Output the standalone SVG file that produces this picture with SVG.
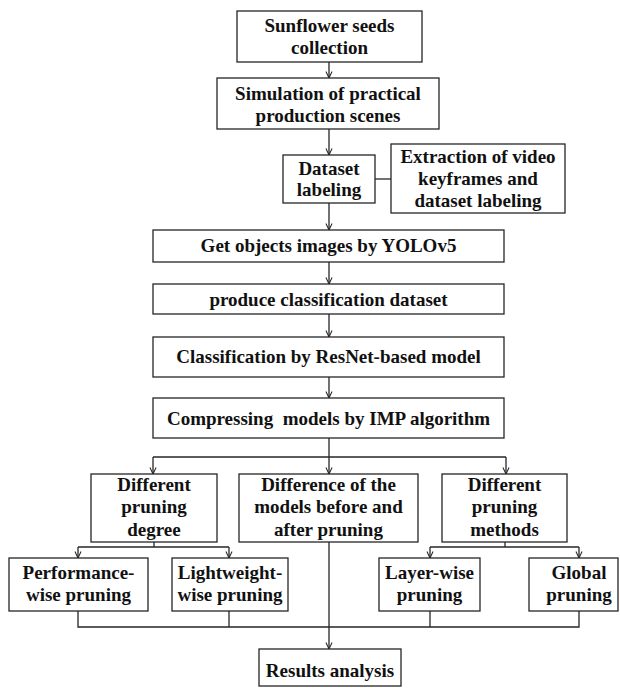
<svg xmlns="http://www.w3.org/2000/svg" width="620" height="688" viewBox="0 0 620 688">
  <style>
    .box { fill: #ffffff; stroke: #262626; stroke-width: 1.3; }
    .lbl { font-family: 'Liberation Serif', Tinos, 'Times New Roman', Times, 'DejaVu Serif', serif; font-weight: 700; font-size: 19px; fill: #111111; text-anchor: middle; }
    .wire { fill: none; stroke: #262626; stroke-width: 1.3; }
  </style>
  <defs>
    <marker id="arrow" viewBox="0 0 8 8" refX="7.5" refY="4" markerWidth="7" markerHeight="8" markerUnits="userSpaceOnUse" orient="auto">
      <path d="M0,0.5 L7.5,4 L0,7.5" fill="none" stroke="#262626" stroke-width="1.2"/>
    </marker>
  </defs>
  <rect width="620" height="688" fill="#ffffff"/>

  <!-- connectors -->
  <g id="connectors" class="wire">
    <path d="M329,62 V78" marker-end="url(#arrow)"/>
    <path d="M329,129 V155" marker-end="url(#arrow)"/>
    <path d="M375,179 H391"/>
    <path d="M329,203 V230" marker-end="url(#arrow)"/>
    <path d="M329,262 V284" marker-end="url(#arrow)"/>
    <path d="M329,314 V337" marker-end="url(#arrow)"/>
    <path d="M329,377 V398" marker-end="url(#arrow)"/>
    <!-- split after compression -->
    <path d="M329,438 V457"/>
    <path d="M153,457 H506"/>
    <path d="M153,457 V474" marker-end="url(#arrow)"/>
    <path d="M329,457 V474" marker-end="url(#arrow)"/>
    <path d="M506,457 V474" marker-end="url(#arrow)"/>
    <!-- pruning degree branch -->
    <path d="M154,542 V547"/>
    <path d="M78,547 H229"/>
    <path d="M78,547 V558" marker-end="url(#arrow)"/>
    <path d="M229,547 V558" marker-end="url(#arrow)"/>
    <!-- pruning methods branch -->
    <path d="M505,542 V547"/>
    <path d="M430,547 H579"/>
    <path d="M430,547 V558" marker-end="url(#arrow)"/>
    <path d="M579,547 V558" marker-end="url(#arrow)"/>
    <!-- merge into results -->
    <path d="M78,611 V627 H579 V611"/>
    <path d="M229,611 V627"/>
    <path d="M430,611 V627"/>
    <path d="M329,542 V649" marker-end="url(#arrow)"/>
  </g>

  <g id="seeds">
    <rect class="box" x="237" y="11" width="185" height="51"/>
    <text class="lbl" x="329.5" y="32">Sunflower seeds</text>
    <text class="lbl" x="329.5" y="54">collection</text>
  </g>
  <g id="simulation">
    <rect class="box" x="217" y="78" width="222" height="51"/>
    <text class="lbl" x="328" y="100">Simulation of practical</text>
    <text class="lbl" x="328" y="122">production scenes</text>
  </g>
  <g id="labeling">
    <rect class="box" x="283" y="155" width="92" height="48"/>
    <text class="lbl" x="329" y="175">Dataset</text>
    <text class="lbl" x="329" y="196">labeling</text>
  </g>
  <g id="extraction">
    <rect class="box" x="391" y="144" width="174" height="69"/>
    <text class="lbl" x="478" y="163">Extraction of video</text>
    <text class="lbl" x="478" y="185">keyframes and</text>
    <text class="lbl" x="478" y="207">dataset labeling</text>
  </g>
  <g id="yolo">
    <rect class="box" x="153" y="230" width="351" height="32"/>
    <text class="lbl" x="328.5" y="252">Get objects images by YOLOv5</text>
  </g>
  <g id="produce">
    <rect class="box" x="153" y="284" width="351" height="30"/>
    <text class="lbl" x="328.5" y="306">produce classification dataset</text>
  </g>
  <g id="classification">
    <rect class="box" x="153" y="337" width="351" height="40"/>
    <text class="lbl" x="328.5" y="363">Classification by ResNet-based model</text>
  </g>
  <g id="compressing">
    <rect class="box" x="153" y="398" width="351" height="40"/>
    <text class="lbl" x="328.5" y="425" xml:space="preserve">Compressing  models by IMP algorithm</text>
  </g>
  <g id="degree">
    <rect class="box" x="91" y="474" width="126" height="68"/>
    <text class="lbl" x="154" y="491">Different</text>
    <text class="lbl" x="154" y="513">pruning</text>
    <text class="lbl" x="154" y="536">degree</text>
  </g>
  <g id="difference">
    <rect class="box" x="239" y="474" width="179" height="68"/>
    <text class="lbl" x="328.5" y="491">Difference of the</text>
    <text class="lbl" x="328.5" y="513">models before and</text>
    <text class="lbl" x="328.5" y="536">after pruning</text>
  </g>
  <g id="methods">
    <rect class="box" x="442" y="474" width="125" height="68"/>
    <text class="lbl" x="504.5" y="491">Different</text>
    <text class="lbl" x="504.5" y="513">pruning</text>
    <text class="lbl" x="504.5" y="536">methods</text>
  </g>
  <g id="performance">
    <rect class="box" x="9" y="558" width="139" height="53"/>
    <text class="lbl" x="78.5" y="579">Performance-</text>
    <text class="lbl" x="78.5" y="601">wise pruning</text>
  </g>
  <g id="lightweight">
    <rect class="box" x="172" y="558" width="116" height="53"/>
    <text class="lbl" x="230" y="579">Lightweight-</text>
    <text class="lbl" x="230" y="601">wise pruning</text>
  </g>
  <g id="layerwise">
    <rect class="box" x="379" y="558" width="101" height="53"/>
    <text class="lbl" x="429.5" y="579">Layer-wise</text>
    <text class="lbl" x="429.5" y="601">pruning</text>
  </g>
  <g id="global">
    <rect class="box" x="529" y="558" width="89" height="53"/>
    <text class="lbl" x="579" y="579">Global</text>
    <text class="lbl" x="579" y="601">pruning</text>
  </g>
  <g id="results">
    <rect class="box" x="259" y="649" width="142" height="37"/>
    <text class="lbl" x="330" y="677">Results analysis</text>
  </g>
</svg>
